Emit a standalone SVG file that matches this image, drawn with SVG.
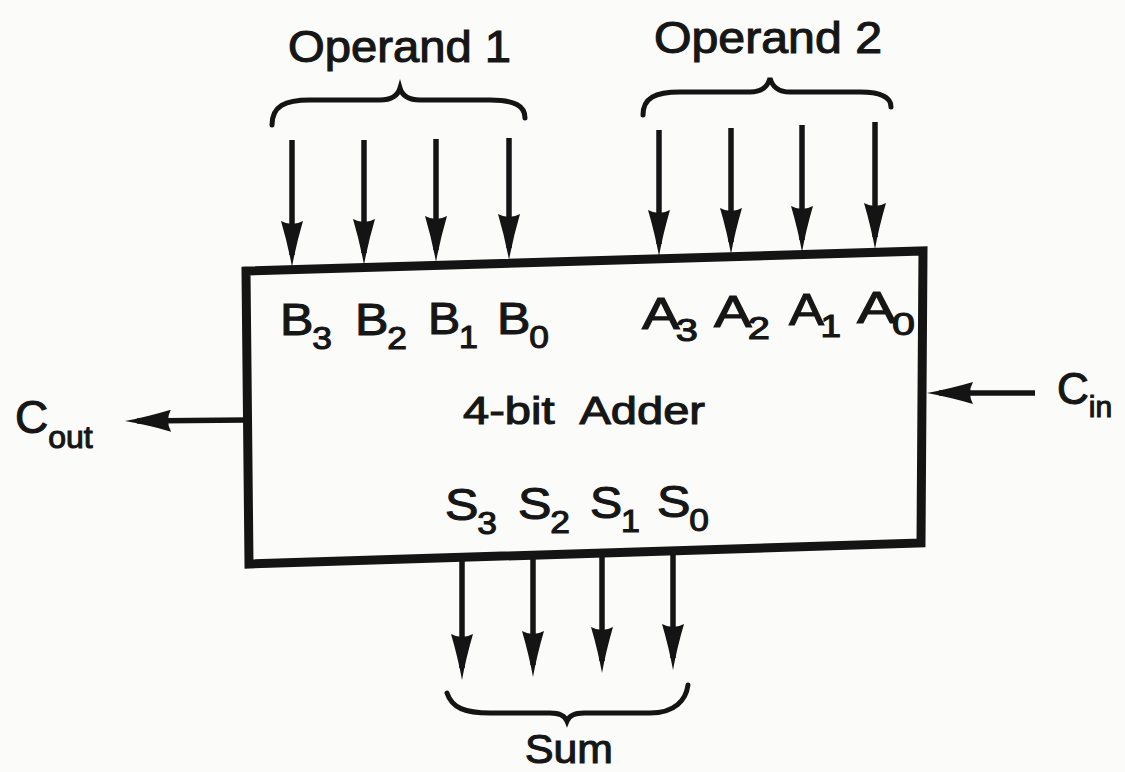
<svg xmlns="http://www.w3.org/2000/svg" width="1125" height="772" viewBox="0 0 1125 772">
<style>
text{font-family:"Liberation Sans",Arial,sans-serif;fill:#161616;stroke:#161616;stroke-width:1.1}
.lbl{font-size:44px}
.sub{font-size:31px}
.wire{stroke:#141414;stroke-width:5.5;fill:none;marker-end:url(#ah)}
.brace{stroke:#141414;stroke-width:5;fill:none;stroke-linecap:round}
</style>
<defs>
<marker id="ah" viewBox="0 0 46 22" refX="34" refY="11" markerWidth="46" markerHeight="22" orient="auto" markerUnits="userSpaceOnUse">
<path d="M0,0 Q24,7 46,11 Q24,15 0,22 Q6,11 0,0 Z" fill="#141414"/>
</marker>
</defs>
<rect width="1125" height="772" fill="#fbfbfa"/>

<g id="connectors">
<line class="wire" x1="292" y1="140" x2="292" y2="255"/>
<line class="wire" x1="364" y1="140" x2="364" y2="253"/>
<line class="wire" x1="436" y1="139" x2="436" y2="250"/>
<line class="wire" x1="509" y1="138" x2="509" y2="248"/>
<line class="wire" x1="659" y1="130" x2="659" y2="244"/>
<line class="wire" x1="731" y1="128" x2="731" y2="242"/>
<line class="wire" x1="802" y1="125" x2="802" y2="240"/>
<line class="wire" x1="875" y1="122" x2="875" y2="237"/>
<line class="wire" x1="462" y1="558" x2="462" y2="668"/>
<line class="wire" x1="533" y1="556" x2="533" y2="665"/>
<line class="wire" x1="602" y1="554" x2="602" y2="661"/>
<line class="wire" x1="673" y1="552" x2="673" y2="658"/>
<line class="wire" x1="246" y1="420" x2="137" y2="421"/>
<line class="wire" x1="1035" y1="393" x2="939" y2="393"/>
</g>

<g id="adder">
<polygon points="246,271 923,251 921,543 249,564" fill="none" stroke="#141414" stroke-width="9" stroke-linejoin="miter"/>
<text class="lbl" x="280" y="335" textLength="52" lengthAdjust="spacingAndGlyphs">B<tspan class="sub" dx="-1" dy="14">3</tspan></text>
<text class="lbl" x="355" y="335" textLength="52" lengthAdjust="spacingAndGlyphs">B<tspan class="sub" dx="-1" dy="14">2</tspan></text>
<text class="lbl" x="428" y="334" textLength="50" lengthAdjust="spacingAndGlyphs">B<tspan class="sub" dx="-1" dy="14">1</tspan></text>
<text class="lbl" x="497" y="334" textLength="52" lengthAdjust="spacingAndGlyphs">B<tspan class="sub" dx="-1" dy="14">0</tspan></text>
<text class="lbl" x="642" y="329" textLength="56" lengthAdjust="spacingAndGlyphs">A<tspan class="sub" dx="-3" dy="12">3</tspan></text>
<text class="lbl" x="714" y="327" textLength="56" lengthAdjust="spacingAndGlyphs">A<tspan class="sub" dx="-3" dy="12">2</tspan></text>
<text class="lbl" x="789" y="325" textLength="52" lengthAdjust="spacingAndGlyphs">A<tspan class="sub" dx="-3" dy="12">1</tspan></text>
<text class="lbl" x="857" y="323" textLength="58" lengthAdjust="spacingAndGlyphs">A<tspan class="sub" dx="-3" dy="12">0</tspan></text>
<text x="463" y="424" font-size="39" word-spacing="12" textLength="242" lengthAdjust="spacingAndGlyphs">4-bit Adder</text>
<text class="lbl" x="445" y="520" textLength="52" lengthAdjust="spacingAndGlyphs">S<tspan class="sub" dx="-1" dy="14">3</tspan></text>
<text class="lbl" x="518" y="519" textLength="52" lengthAdjust="spacingAndGlyphs">S<tspan class="sub" dx="-1" dy="14">2</tspan></text>
<text class="lbl" x="590" y="518" textLength="50" lengthAdjust="spacingAndGlyphs">S<tspan class="sub" dx="-1" dy="14">1</tspan></text>
<text class="lbl" x="657" y="517" textLength="52" lengthAdjust="spacingAndGlyphs">S<tspan class="sub" dx="-1" dy="14">0</tspan></text>
</g>

<g id="operand1">
<path class="brace" d="M272,125 C272,106 285,100 310,100 L380,100 C392,100 398,95 400,88 C402,95 408,100 420,100 L490,100 C515,100 525,106 525,118"/>
<text x="288" y="62" font-size="44" textLength="223" lengthAdjust="spacingAndGlyphs">Operand 1</text>
</g>

<g id="operand2">
<path class="brace" d="M643,115 C643,98 655,92 680,92 L750,92 C762,92 768,86 770,78 C772,86 778,92 790,92 L860,92 C882,92 891,97 891,107"/>
<text x="654" y="53" font-size="44" textLength="228" lengthAdjust="spacingAndGlyphs">Operand 2</text>
</g>

<g id="sum">
<path class="brace" d="M447,693 C452,708 465,713 490,713 L550,713 C560,713 565,716 567,721 C569,716 574,713 584,713 L650,713 C675,713 686,700 688,685"/>
<text x="525" y="763" font-size="41" textLength="88" lengthAdjust="spacingAndGlyphs">Sum</text>
</g>

<g id="cout">
<text x="15" y="433" font-size="46">C<tspan font-size="32" dy="15">out</tspan></text>
</g>

<g id="cin">
<text x="1057" y="404" font-size="44">C<tspan font-size="30" dy="13">in</tspan></text>
</g>
</svg>
